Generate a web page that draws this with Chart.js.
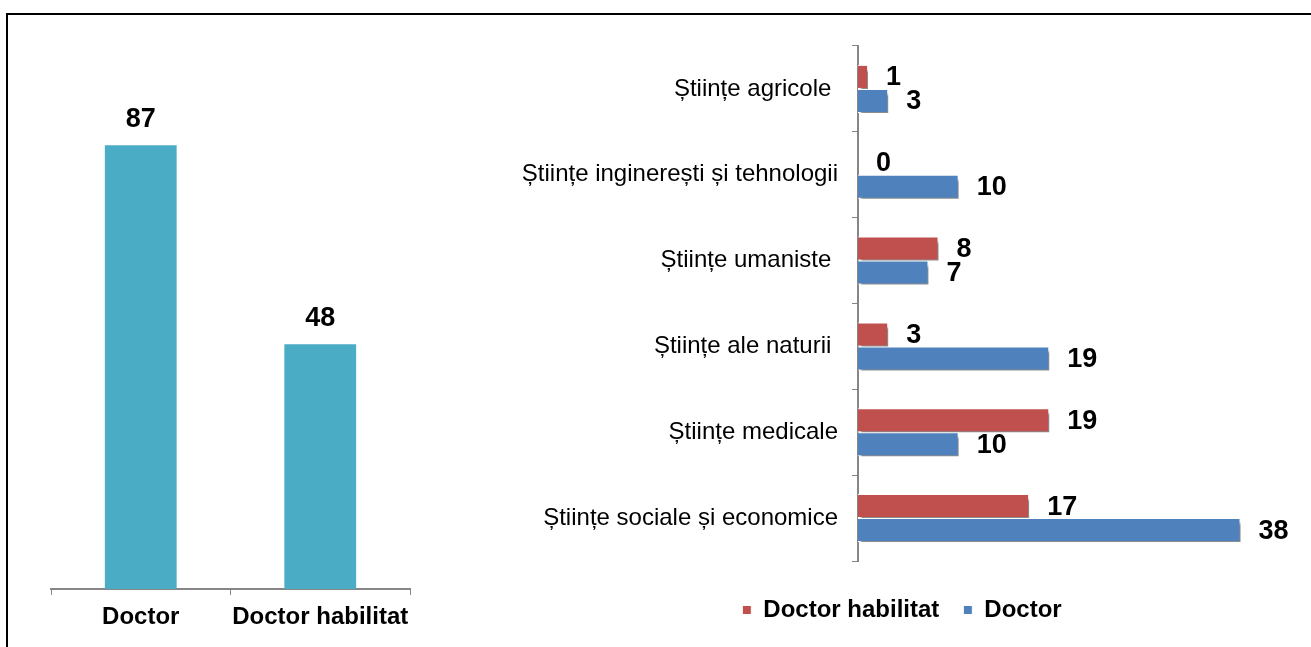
<!DOCTYPE html>
<html>
<head>
<meta charset="utf-8">
<script src="https://cdn.jsdelivr.net/npm/chart.js@4/dist/chart.umd.min.js"></script>
<style>
  html, body { margin: 0; padding: 0; background: #fff; overflow: hidden; }
  body { width: 1311px; height: 647px; position: relative; }
  #frame { position: absolute; left: 6px; top: 13px; width: 1400px; height: 700px;
           border-top: 2px solid #000; border-left: 2px solid #000; }
  canvas { position: absolute; }
  #totalChart { left: 10px; top: 14px; }
  #domainChart { left: 470px; top: 14px; }
</style>
</head>
<body>
<div id="frame"></div>
<canvas id="totalChart" width="440" height="633"></canvas>
<canvas id="domainChart" width="841" height="633"></canvas>
<script>
// ---------------- DATA ----------------
const degreeLabels = ["Doctor", "Doctor habilitat"];
const degreeTotals = [87, 48];

const domainLabels = [
  "Științe agricole ",
  "Științe inginerești și tehnologii",
  "Științe umaniste ",
  "Științe ale naturii ",
  "Științe medicale",
  "Științe sociale și economice"
];
const habilitatValues = [1, 0, 8, 3, 19, 17];
const doctorValues = [3, 10, 7, 19, 10, 38];

const TEAL = "#4BACC6";
const RED = "#C0504D";
const BLUE = "#4F81BD";
const AXIS_GRAY = "#868686";

Chart.defaults.font.family = "'Liberation Sans', Arial, sans-serif";
Chart.defaults.color = "#000";

// draws numbers next to bars, optional shadow under bars
function valueLabels(opts) {
  return {
    id: "valueLabels",
    beforeDatasetsDraw(chart) {
      const ctx = chart.ctx;
      ctx.save();
      if (opts.shadow) {
        ctx.shadowColor = "rgba(0,0,0,0.45)";
        ctx.shadowOffsetX = 3;
        ctx.shadowOffsetY = 5;
        ctx.shadowBlur = 2;
      }
    },
    afterDatasetsDraw(chart) {
      const ctx = chart.ctx;
      ctx.restore();
      ctx.save();
      ctx.font = "bold " + opts.size + "px 'Liberation Sans', Arial, sans-serif";
      ctx.fillStyle = "#000";
      chart.data.datasets.forEach((ds, i) => {
        chart.getDatasetMeta(i).data.forEach((bar, j) => {
          const v = ds.data[j];
          if (opts.horizontal) {
            ctx.textAlign = "left";
            ctx.textBaseline = "middle";
            ctx.fillText(v, bar.x + opts.gap, bar.y + 1);
          } else {
            ctx.textAlign = "center";
            ctx.textBaseline = "bottom";
            ctx.fillText(v, bar.x, bar.y - opts.gap);
          }
        });
      });
      ctx.restore();
    }
  };
}

// ---------------- LEFT: TOTALS ----------------
new Chart(document.getElementById("totalChart"), {
  type: "bar",
  data: {
    labels: degreeLabels,
    datasets: [{
      data: degreeTotals,
      backgroundColor: TEAL,
      barPercentage: 0.4,
      categoryPercentage: 1
    }]
  },
  options: {
    responsive: false,
    animation: false,
    layout: { padding: { left: 41, right: 40, top: 65, bottom: 0 } },
    plugins: { legend: { display: false }, tooltip: { enabled: false } },
    scales: {
      y: { display: false, min: 0, max: 100 },
      x: {
        afterFit(scale) { scale.height = 58; },
        border: { display: true, color: AXIS_GRAY, width: 2 },
        grid: { offset: true, drawOnChartArea: false, drawTicks: true, tickLength: 6, color: AXIS_GRAY },
        ticks: {
          padding: 8, maxRotation: 0, minRotation: 0, autoSkip: false,
          color: "#000", font: { size: 24, weight: "bold" }
        }
      }
    }
  },
  plugins: [valueLabels({ horizontal: false, size: 27, gap: 12 })]
});

// ---------------- RIGHT: BY DOMAIN ----------------
new Chart(document.getElementById("domainChart"), {
  type: "bar",
  data: {
    labels: domainLabels,
    datasets: [
      {
        label: "Doctor habilitat",
        data: habilitatValues,
        backgroundColor: RED,
        borderColor: "#fff",
        borderWidth: 1,
        barPercentage: 1,
        categoryPercentage: 0.56
      },
      {
        label: "Doctor",
        data: doctorValues,
        backgroundColor: BLUE,
        borderColor: "#fff",
        borderWidth: 1,
        barPercentage: 1,
        categoryPercentage: 0.56
      }
    ]
  },
  options: {
    indexAxis: "y",
    responsive: false,
    animation: false,
    layout: { padding: { left: 23, right: 0, top: 32, bottom: 15 } },
    plugins: {
      tooltip: { enabled: false },
      legend: {
        position: "bottom",
        labels: {
          boxWidth: 9,
          boxHeight: 9,
          padding: 24,
          color: "#000",
          font: { size: 24, weight: "bold" }
        }
      }
    },
    scales: {
      x: {
        min: 0,
        max: 45,
        afterFit(scale) { scale.height = 13; },
        grid: { display: false },
        border: { display: false },
        ticks: { display: false }
      },
      y: {
        afterFit(scale) { scale.width = 365; },
        border: { display: true, color: AXIS_GRAY, width: 2 },
        grid: { offset: true, drawOnChartArea: false, drawTicks: true, tickLength: 6, color: AXIS_GRAY },
        ticks: { padding: 14, color: "#000", font: { size: 24 } }
      }
    }
  },
  plugins: [valueLabels({ horizontal: true, size: 27, gap: 18, shadow: true })]
});
</script>
</body>
</html>
